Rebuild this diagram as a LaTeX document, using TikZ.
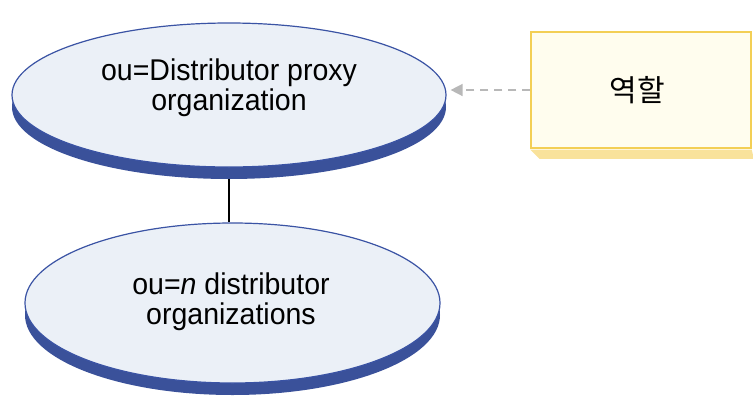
\documentclass[tikz,border=0pt]{standalone}
\usepackage{fontspec}
\setmainfont[FakeStretch=0.95]{Liberation Sans}
\newfontfamily\krfont{Noto Sans CJK KR}
\usetikzlibrary{shapes.geometric,arrows.meta,backgrounds}
\definecolor{efill}{HTML}{EBF0F7}
\definecolor{eline}{HTML}{3A53A4}
\definecolor{eshadow}{HTML}{3A519A}
\definecolor{rfill}{HTML}{FFFDEE}
\definecolor{rline}{HTML}{F3CF55}
\definecolor{rshadow}{HTML}{F9E29B}
\definecolor{arrowgray}{HTML}{B8B8B8}
\begin{document}
\begin{tikzpicture}[x=1pt,y=-1pt,
  ellface/.style={ellipse,draw=eline,fill=efill,line width=1.2pt,inner sep=0pt},
  ellshadow/.style={ellipse,fill=eshadow,inner sep=0pt},
  lbl/.style={align=center,inner sep=0pt,font=\fontsize{30}{30}\selectfont},
  rolebox/.style={rectangle,draw=rline,fill=rfill,line width=1.5pt,inner sep=0pt,minimum width=220pt,minimum height=116pt},
  dep/.style={draw=arrowgray,line width=1.5pt,dash pattern=on 8pt off 6pt,-{Triangle[length=12pt,width=12pt,fill=arrowgray]}}
]
\useasboundingbox (0,0) rectangle (753,397);
% top ellipse
\node[ellshadow,minimum width=434pt,minimum height=144pt] (topsh) at (229,107) {};
\node[ellface,minimum width=434pt,minimum height=144pt] (top) at (229,95) {};
\node[lbl] (toptext) at (229,88) {ou=Distributor proxy\\organization};
% bottom ellipse
\node[ellshadow,minimum width=415pt,minimum height=160pt] (botsh) at (232.5,315) {};
\node[ellface,minimum width=415pt,minimum height=160pt] (bot) at (232.5,303) {};
\node[lbl] (bottext) at (231,302) {ou=\textit{n} distributor\\organizations};
% connector
\draw[line width=1.2pt] (topsh.south) -- (topsh.south |- bot.north);
% role box
\node[rolebox] (role) at (641,90) {};
\node[inner sep=0pt,font=\krfont\fontsize{30}{32}\selectfont] (roletext) at (637,90) {역할};
\begin{scope}[on background layer]
\fill[rshadow] ([yshift=-0.75pt]role.south west) -- ([yshift=-0.75pt]role.south east) -- ([shift={(2,10)}]role.south east) -- ([shift={(9,10)}]role.south west) -- cycle;
\end{scope}
% dependency arrow
\coordinate (tip) at ([xshift=4pt]role.west -| top.east);
\draw[dep] (role.west) -- (tip);
\end{tikzpicture}
\end{document}
